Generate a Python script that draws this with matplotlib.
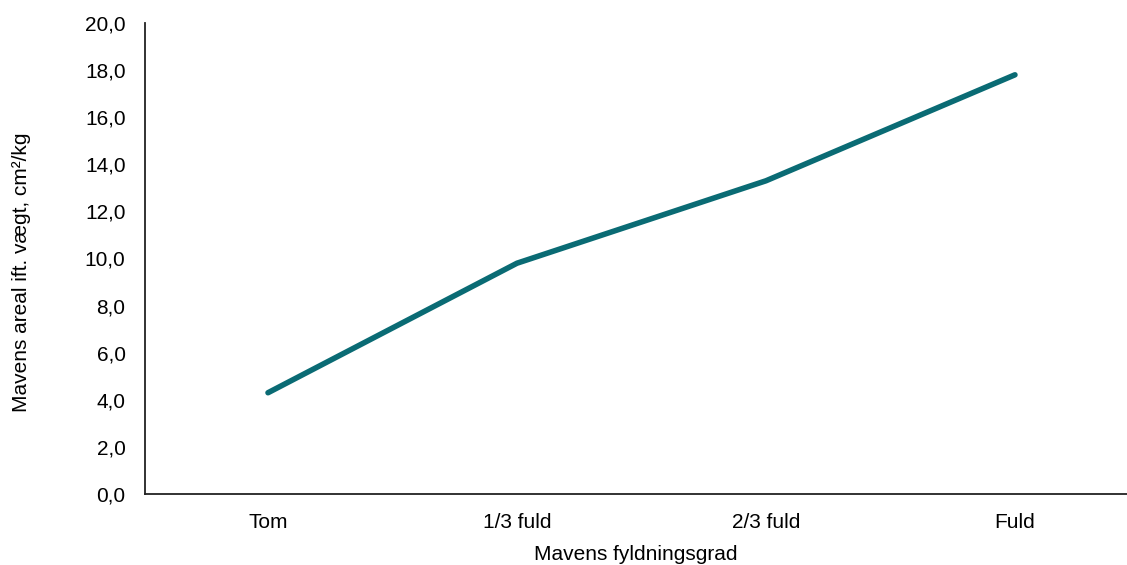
import matplotlib
matplotlib.use("Agg")
import matplotlib.pyplot as plt

plt.rcParams['font.family'] = ['Liberation Sans', 'DejaVu Sans']

# stomach fill level vs. stomach area per body weight
categories = ["Tom", "1/3 fuld", "2/3 fuld", "Fuld"]
area = [4.3, 9.8, 13.3, 17.8]
yticks = [0, 2, 4, 6, 8, 10, 12, 14, 16, 18, 20]

fig = plt.figure(figsize=(11.27, 5.65), dpi=100)
ax = fig.add_axes([145 / 1127, 1 - 494 / 565, 1 - 145 / 1127, 471 / 565])

x = list(range(len(categories)))
ax.plot(x, area, color='#0a6b74', linewidth=4.0, solid_capstyle='round',
        solid_joinstyle='round')

ax.set_xlim(-0.494, 3.45)
ax.set_ylim(0, 20)
ax.set_xticks(x)
ax.set_xticklabels(categories)
ax.set_yticks(yticks)
ax.set_yticklabels([f"{v:.1f}".replace('.', ',') for v in yticks])
ax.tick_params(axis='both', length=0, labelsize=15)
ax.tick_params(axis='y', pad=14)
ax.tick_params(axis='x', pad=14)

for side in ['top', 'right']:
    ax.spines[side].set_visible(False)
for side in ['left', 'bottom']:
    ax.spines[side].set_linewidth(1.3)
    ax.spines[side].set_color('#222222')

ax.set_xlabel("Mavens fyldningsgrad", fontsize=15, labelpad=9)
ax.set_ylabel("Mavens areal ift. vægt, cm²/kg", fontsize=15)
ax.yaxis.set_label_coords(-0.116, 0.47)

fig.savefig("out.png", dpi=100)
